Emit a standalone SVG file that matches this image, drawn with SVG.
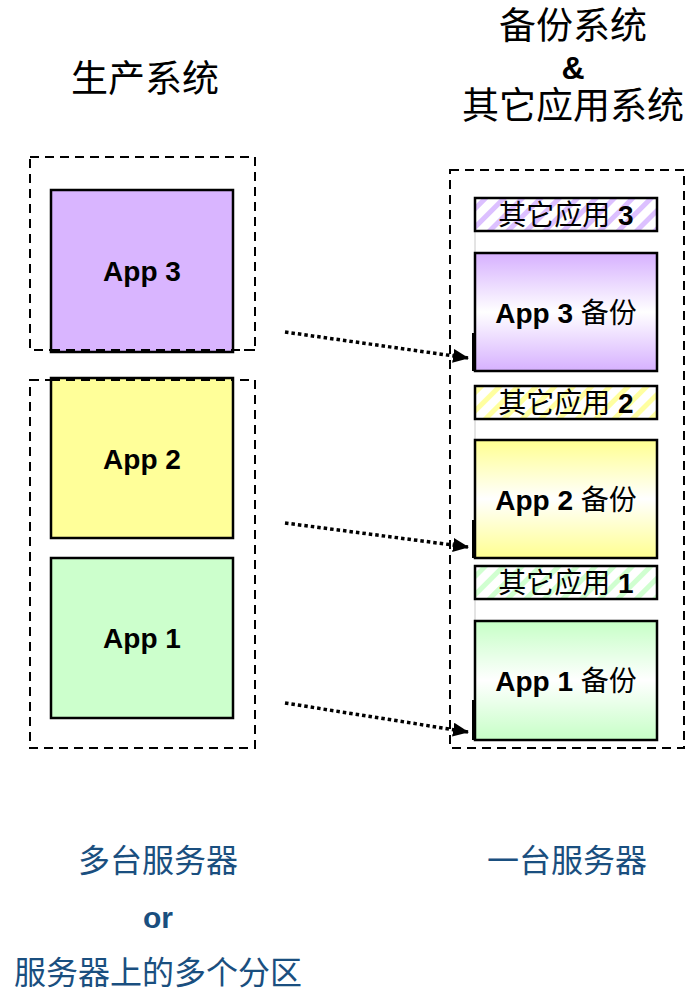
<svg xmlns="http://www.w3.org/2000/svg" width="697" height="990" viewBox="0 0 697 990">
<style>
.cjk{font-family:"Liberation Sans","Noto Sans CJK SC",sans-serif;}
.title{font-size:37px;fill:#000;text-anchor:middle;}
.blue{font-size:32px;fill:#1A4F7F;text-anchor:middle;}
.app{font-size:28px;font-weight:bold;fill:#000;text-anchor:middle;}
.strip{font-size:28px;fill:#000;text-anchor:middle;}
.dash{fill:none;stroke:#000;stroke-width:2;stroke-dasharray:9,6;}
.box{stroke:#000;stroke-width:2.5;}
.conn{fill:none;stroke:#000;stroke-width:3.5;stroke-dasharray:3.5,3;}
</style>
<defs>
<linearGradient id="gP" x1="0" y1="0" x2="0" y2="1"><stop offset="0" stop-color="#D6B0FF"/><stop offset="0.5" stop-color="#FFFFFF"/><stop offset="1" stop-color="#D6B0FF"/></linearGradient>
<linearGradient id="gY" x1="0" y1="0" x2="0" y2="1"><stop offset="0" stop-color="#FFFF90"/><stop offset="0.5" stop-color="#FFFFFF"/><stop offset="1" stop-color="#FFFF90"/></linearGradient>
<linearGradient id="gG" x1="0" y1="0" x2="0" y2="1"><stop offset="0" stop-color="#C6FFC6"/><stop offset="0.5" stop-color="#FFFFFF"/><stop offset="1" stop-color="#C6FFC6"/></linearGradient>
<pattern id="hP" width="13" height="13" patternUnits="userSpaceOnUse" patternTransform="rotate(45)"><rect width="13" height="13" fill="#fff"/><rect width="5" height="13" fill="#DCC0FF"/></pattern>
<pattern id="hY" width="13" height="13" patternUnits="userSpaceOnUse" patternTransform="rotate(45)"><rect width="13" height="13" fill="#fff"/><rect width="5" height="13" fill="#FFFFA0"/></pattern>
<pattern id="hG" width="13" height="13" patternUnits="userSpaceOnUse" patternTransform="rotate(45)"><rect width="13" height="13" fill="#fff"/><rect width="5" height="13" fill="#D0FFD0"/></pattern>
<marker id="ahL" viewBox="0 0 16 14" markerWidth="16" markerHeight="14" refX="15" refY="7" orient="auto" markerUnits="userSpaceOnUse"><path d="M0,0 L16,7 L0,14 z" fill="#000"/></marker>
</defs>

<g id="titles" class="cjk">
<text class="title" x="145" y="92">生产系统</text>
<text class="title" x="573" y="39">备份系统</text>
<text x="573" y="79" font-size="32" font-weight="bold" text-anchor="middle">&amp;</text>
<text class="title" x="573" y="119">其它应用系统</text>
</g>

<g id="prod-group-1"><rect class="dash" x="30" y="157" width="225" height="193"/></g>
<g id="prod-group-2"><rect class="dash" x="30" y="380" width="225" height="368"/></g>

<g id="app3" class="cjk"><rect class="box" x="51" y="190" width="182" height="162" fill="#D9B5FF"/><text class="app" x="142" y="281">App 3</text></g>
<g id="app2" class="cjk"><rect class="box" x="51" y="378" width="182" height="160" fill="#FFFF99"/><text class="app" x="142" y="469">App 2</text></g>
<g id="app1" class="cjk"><rect class="box" x="51" y="558" width="182" height="160" fill="#CCFFCC"/><text class="app" x="142" y="648">App 1</text></g>
<g id="prod-overlap"><path class="dash" d="M51,350 H255"/><path class="dash" d="M51,380 H233"/></g>

<g id="backup-server"><rect class="dash" x="450" y="170" width="234" height="578"/></g>

<g id="guides"><path d="M475,231 V253 M475,419 V440 M475,599 V621" stroke="#c8c8c8" stroke-width="1"/></g>

<g id="other3" class="cjk"><rect class="box" x="475" y="198" width="182" height="33" fill="url(#hP)"/><text class="strip" x="566" y="225">其它应用 <tspan font-weight="bold">3</tspan></text></g>
<g id="backup3" class="cjk"><rect class="box" x="475" y="253" width="182" height="118" fill="url(#gP)"/><path d="M474,333 V371" stroke="#000" stroke-width="4"/><text class="app" x="566" y="323">App 3 <tspan font-weight="normal">备份</tspan></text></g>

<g id="other2" class="cjk"><rect class="box" x="475" y="386" width="182" height="33" fill="url(#hY)"/><text class="strip" x="566" y="413">其它应用 <tspan font-weight="bold">2</tspan></text></g>
<g id="backup2" class="cjk"><rect class="box" x="475" y="440" width="182" height="118" fill="url(#gY)"/><path d="M474,520 V558" stroke="#000" stroke-width="4"/><text class="app" x="566" y="510">App 2 <tspan font-weight="normal">备份</tspan></text></g>

<g id="other1" class="cjk"><rect class="box" x="475" y="566" width="182" height="33" fill="url(#hG)"/><text class="strip" x="566" y="593">其它应用 <tspan font-weight="bold">1</tspan></text></g>
<g id="backup1" class="cjk"><rect class="box" x="475" y="621" width="182" height="119" fill="url(#gG)"/><path d="M474,700 V740" stroke="#000" stroke-width="4"/><text class="app" x="566" y="691">App 1 <tspan font-weight="normal">备份</tspan></text></g>

<g id="connectors">
<path class="conn" d="M285,332 L468,358" marker-end="url(#ahL)"/>
<path class="conn" d="M285,523 L468,547" marker-end="url(#ahL)"/>
<path class="conn" d="M285,703 L468,732" marker-end="url(#ahL)"/>
</g>

<g id="captions" class="cjk">
<text class="blue" x="158" y="872">多台服务器</text>
<text x="158" y="928" font-size="30" font-weight="bold" fill="#1A4F7F" text-anchor="middle">or</text>
<text class="blue" x="158" y="984">服务器上的多个分区</text>
<text class="blue" x="567" y="872">一台服务器</text>
</g>
</svg>
